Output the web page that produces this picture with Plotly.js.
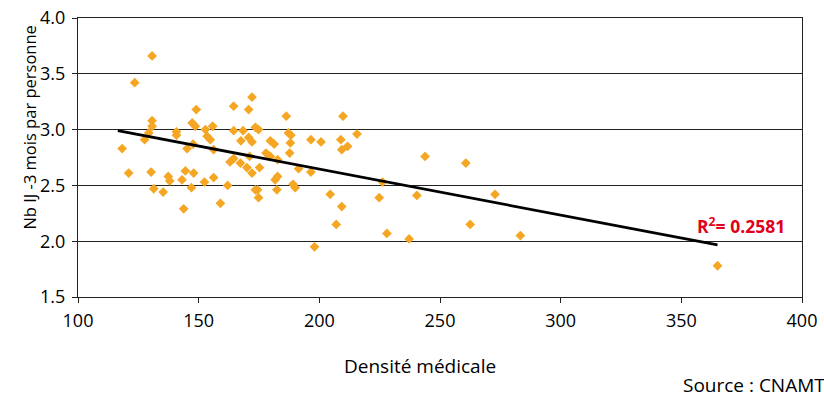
<!DOCTYPE html>
<html>
<head>
<meta charset="utf-8">
<script src="https://cdn.plot.ly/plotly-3.0.1.min.js"></script>
<style>html,body{margin:0;padding:0;background:#fff;}#chart{width:824px;height:396px;}</style>
</head>
<body>
<div id="chart"></div>
<script>
// Densité médicale (x) and Nb IJ -3 mois par personne (y)
const densite = [118.3,121,123.5,127.6,129.3,130.7,130.7,130.7,130.3,131.4,135.3,137.4,138,140.8,140.8,143.1,143.8,144.5,145.2,147,147.3,147.7,147.9,148.6,149,152.4,152.8,153.5,154.8,155.8,156.2,156.2,159,162,163,164.5,164.5,164.5,167.3,167.5,168.4,170,170.7,170.7,171.1,172.1,172.1,172.1,173.5,173.5,174.4,174.8,174.8,175.2,177.9,179.7,179.7,181.3,181.7,182.4,182.7,182.7,186.3,187.2,187.7,188,188.2,189.1,190,191.4,196.5,196.5,198,200.7,204.5,207,208.9,209.3,209.3,209.8,211.7,215.6,224.8,226.2,228,237.2,240.4,243.8,260.7,262.5,272.8,283.3,365];
const nbIJ = [2.83,2.61,3.42,2.91,2.97,3.66,3.08,3.03,2.62,2.47,2.44,2.58,2.54,2.98,2.95,2.55,2.29,2.63,2.83,2.48,3.06,2.87,2.61,3.03,3.18,2.53,3.00,2.94,2.91,3.03,2.82,2.57,2.34,2.50,2.71,3.21,2.99,2.74,2.70,2.90,2.99,2.66,3.18,2.93,2.76,3.29,2.89,2.61,3.02,2.46,2.46,3.00,2.39,2.66,2.79,2.90,2.76,2.87,2.55,2.46,2.73,2.58,3.12,2.97,2.79,2.88,2.95,2.51,2.48,2.65,2.91,2.62,1.95,2.89,2.42,2.15,2.91,2.82,2.31,3.12,2.85,2.96,2.39,2.53,2.07,2.02,2.41,2.76,2.70,2.15,2.42,2.05,1.78];
// Linear trend line end points
const trendX = [116.5, 365];
const trendY = [2.99, 1.966];
const r2Label = 'R<sup>2</sup>= 0.2581';
const xTicks = [100,150,200,250,300,350,400];
const yTicks = [1.5,2.0,2.5,3.0,3.5,4.0];

const font = 'Open Sans, Noto Sans, DejaVu Sans, sans-serif';

const traces = [
  {x: densite, y: nbIJ, type: 'scatter', mode: 'markers',
   marker: {symbol: 'diamond', size: 7.5, color: '#F5A623'}, hoverinfo: 'x+y'},
  {x: trendX, y: trendY, type: 'scatter', mode: 'lines',
   line: {color: '#000', width: 2.8}, hoverinfo: 'skip'}
];

const layout = {
  width: 824, height: 396,
  margin: {l: 77.5, r: 21.5, t: 18, b: 99},
  paper_bgcolor: '#fff', plot_bgcolor: '#fff',
  showlegend: false,
  font: {family: font, size: 17, color: '#000'},
  xaxis: {
    range: [100, 400], tickvals: xTicks, ticktext: xTicks.map(String),
    showgrid: false, zeroline: false,
    showline: true, linecolor: '#222', linewidth: 1, mirror: true,
    ticks: 'outside', ticklen: 5, tickcolor: '#222',
    ticklabelstandoff: 2,
    tickfont: {family: font, size: 18, color: '#000'}
  },
  yaxis: {
    range: [1.5, 4.0], tickvals: yTicks, ticktext: yTicks.map(v => v.toFixed(1)),
    showgrid: true, gridcolor: '#222', gridwidth: 1, zeroline: false,
    showline: true, linecolor: '#222', linewidth: 1, mirror: true,
    ticks: 'outside', ticklen: 5, tickcolor: '#222',
    ticklabelstandoff: 3,
    tickfont: {family: font, size: 18, color: '#000'}
  },
  annotations: [
    {text: 'Nb IJ -3 mois par personne', xref: 'paper', yref: 'paper', x: -0.0683, y: 0.6057,
     xanchor: 'center', yanchor: 'middle', textangle: -90, showarrow: false,
     font: {family: font, size: 16.5, color: '#000'}},
    {text: 'Densité médicale', xref: 'paper', yref: 'paper', x: 0.472, y: -0.2473,
     xanchor: 'center', yanchor: 'middle', showarrow: false,
     font: {family: font, size: 19, color: '#000'}},
    {text: 'Source : CNAMT', xref: 'paper', yref: 'paper', x: 0.8324, y: -0.315,
     xanchor: 'left', yanchor: 'middle', showarrow: false,
     font: {family: font, size: 19, color: '#000'}},
    {text: r2Label, xref: 'x', yref: 'y', x: 374.6, y: 2.14,
     xanchor: 'center', yanchor: 'middle', showarrow: false,
     font: {family: font, size: 17.5, color: '#E2001A', weight: 'bold'}}
  ]
};

Plotly.newPlot('chart', traces, layout, {staticPlot: true});
</script>
</body>
</html>
